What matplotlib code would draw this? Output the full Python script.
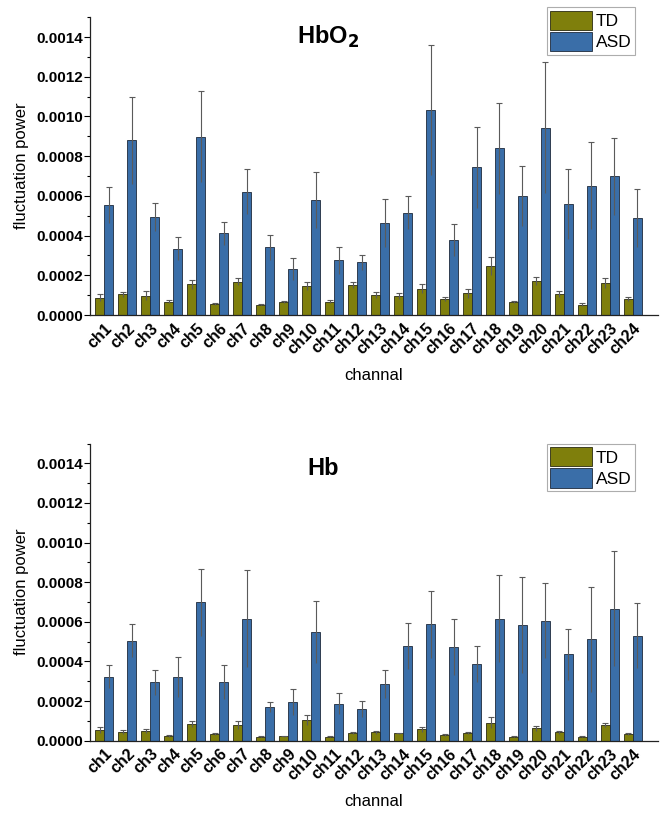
import numpy as np
import matplotlib
matplotlib.use('Agg')
import matplotlib.pyplot as plt
from matplotlib.ticker import MultipleLocator, FormatStrFormatter

plt.rcParams['font.family'] = ['Liberation Sans', 'DejaVu Sans']

# channel names
channels = ['ch%d' % i for i in range(1, 25)]

# HbO2 panel: means and error (upper whisker minus mean)
hbo2_td = [0.000088, 0.000104, 0.000097, 0.000067, 0.000155, 0.000054, 0.000168, 0.000052,
           0.000064, 0.000148, 0.000068, 0.000151, 0.000100, 0.000096, 0.000133, 0.000081,
           0.000109, 0.000247, 0.000067, 0.000171, 0.000106, 0.000052, 0.000161, 0.000079]
hbo2_td_err = [0.000019, 0.000013, 0.000022, 0.000007, 0.000022, 0.000005, 0.000017, 0.000004,
               0.000006, 0.000020, 0.000008, 0.000017, 0.000014, 0.000017, 0.000023, 0.000012,
               0.000022, 0.000047, 0.000006, 0.000021, 0.000013, 0.000007, 0.000024, 0.000010]
hbo2_asd = [0.000556, 0.000879, 0.000494, 0.000334, 0.000897, 0.000412, 0.000620, 0.000341,
            0.000230, 0.000578, 0.000275, 0.000265, 0.000462, 0.000516, 0.001033, 0.000378,
            0.000743, 0.000840, 0.000600, 0.000944, 0.000559, 0.000652, 0.000700, 0.000489]
hbo2_asd_err = [0.000091, 0.000221, 0.000072, 0.000059, 0.000229, 0.000057, 0.000113, 0.000062,
                0.000056, 0.000141, 0.000066, 0.000039, 0.000121, 0.000085, 0.000329, 0.000079,
                0.000203, 0.000230, 0.000151, 0.000331, 0.000175, 0.000217, 0.000194, 0.000144]

# Hb panel
hb_td = [0.000054, 0.000044, 0.000049, 0.000024, 0.000084, 0.000034, 0.000079, 0.000020,
         0.000022, 0.000104, 0.000020, 0.000040, 0.000042, 0.000037, 0.000057, 0.000030,
         0.000039, 0.000091, 0.000020, 0.000062, 0.000042, 0.000020, 0.000079, 0.000035]
hb_td_err = [0.000015, 0.000008, 0.000010, 0.000003, 0.000017, 0.000007, 0.000018, 0.000003,
             0.000003, 0.000027, 0.000003, 0.000005, 0.000007, 0.000004, 0.000012, 0.000004,
             0.000007, 0.000027, 0.000003, 0.000013, 0.000007, 0.000003, 0.000012, 0.000005]
hb_asd = [0.000323, 0.000505, 0.000294, 0.000323, 0.000698, 0.000296, 0.000616, 0.000168,
          0.000195, 0.000550, 0.000187, 0.000160, 0.000286, 0.000478, 0.000587, 0.000474,
          0.000387, 0.000616, 0.000584, 0.000606, 0.000436, 0.000511, 0.000666, 0.000530]
hb_asd_err = [0.000059, 0.000084, 0.000064, 0.000101, 0.000170, 0.000087, 0.000244, 0.000025,
              0.000067, 0.000157, 0.000052, 0.000042, 0.000069, 0.000114, 0.000168, 0.000140,
              0.000090, 0.000220, 0.000240, 0.000189, 0.000129, 0.000266, 0.000290, 0.000163]

td_color = '#7f7f0c'
asd_color = '#3a6ea8'
err_color = '#5a5a5a'

fig = plt.figure(figsize=(6.68, 8.18), dpi=100)
ax_top = fig.add_axes([0.1347, 0.6149, 0.8503, 0.3641])
ax_bot = fig.add_axes([0.1347, 0.0945, 0.8503, 0.3633])


def draw_panel(ax, td, td_err, asd, asd_err, title, title_x, title_y, leg_y):
    x = np.arange(len(channels))
    w = 0.39
    ax.bar(x - w / 2, td, w, color=td_color, edgecolor='#2a2a10', linewidth=0.6, label='TD', zorder=2)
    ax.bar(x + w / 2, asd, w, color=asd_color, edgecolor='#1e2a3a', linewidth=0.6, label='ASD', zorder=2)
    for xs, vals, errs in [(x - w / 2, td, td_err), (x + w / 2, asd, asd_err)]:
        vals = np.array(vals)
        errs = np.array(errs)
        ax.vlines(xs, vals - errs, vals + errs, color=err_color, linewidth=0.8, zorder=3)
        ax.plot(xs, vals + errs, linestyle='none', marker='_', markersize=4,
                markeredgewidth=0.8, color=err_color, zorder=3)

    ax.set_xlim(-0.62, 24.09)
    ax.set_ylim(0, 0.0015)
    ax.yaxis.set_minor_locator(MultipleLocator(0.0001))
    ax.yaxis.set_major_formatter(FormatStrFormatter('%.4f'))
    ax.set_yticks([0, 0.0002, 0.0004, 0.0006, 0.0008, 0.0010, 0.0012, 0.0014])
    ax.set_xticks(x)
    ax.set_xticklabels(channels, rotation=45, ha='right', rotation_mode='anchor',
                       fontsize=11.5, fontweight='bold')
    ax.tick_params(axis='x', length=0, pad=4)
    ax.tick_params(axis='y', which='major', length=4, width=0.8, direction='out',
                   labelsize=11, pad=1)
    ax.tick_params(axis='y', which='minor', length=2.5, width=0.8, direction='out')
    for lbl in ax.get_yticklabels():
        lbl.set_fontweight('bold')
    ax.spines['top'].set_visible(False)
    ax.spines['right'].set_visible(False)
    ax.spines['left'].set_color('#222222')
    ax.spines['bottom'].set_color('#222222')
    ax.spines['left'].set_linewidth(0.9)
    ax.spines['bottom'].set_linewidth(0.9)
    ax.set_ylabel('fluctuation power', fontsize=12, labelpad=5)
    ax.set_xlabel('channal', fontsize=12, labelpad=8)
    ax.text(title_x, title_y, title, transform=ax.transAxes, ha='center', va='center',
            fontsize=17, fontweight='bold')
    leg = ax.legend(loc='upper right', bbox_to_anchor=(0.96, leg_y), fontsize=12.5,
                    frameon=True, fancybox=False, edgecolor='#999999',
                    handlelength=2.4, handleheight=1.35, handletextpad=0.25,
                    labelspacing=0.1, borderpad=0.2, borderaxespad=0)
    leg.get_frame().set_linewidth(0.8)


draw_panel(ax_top, hbo2_td, hbo2_td_err, hbo2_asd, hbo2_asd_err,
           r'HbO$_\mathbf{2}$', 0.42, 0.935, 1.034)
draw_panel(ax_bot, hb_td, hb_td_err, hb_asd, hb_asd_err, 'Hb', 0.41, 0.915, 1.0)

fig.savefig('out.png', dpi=100)
